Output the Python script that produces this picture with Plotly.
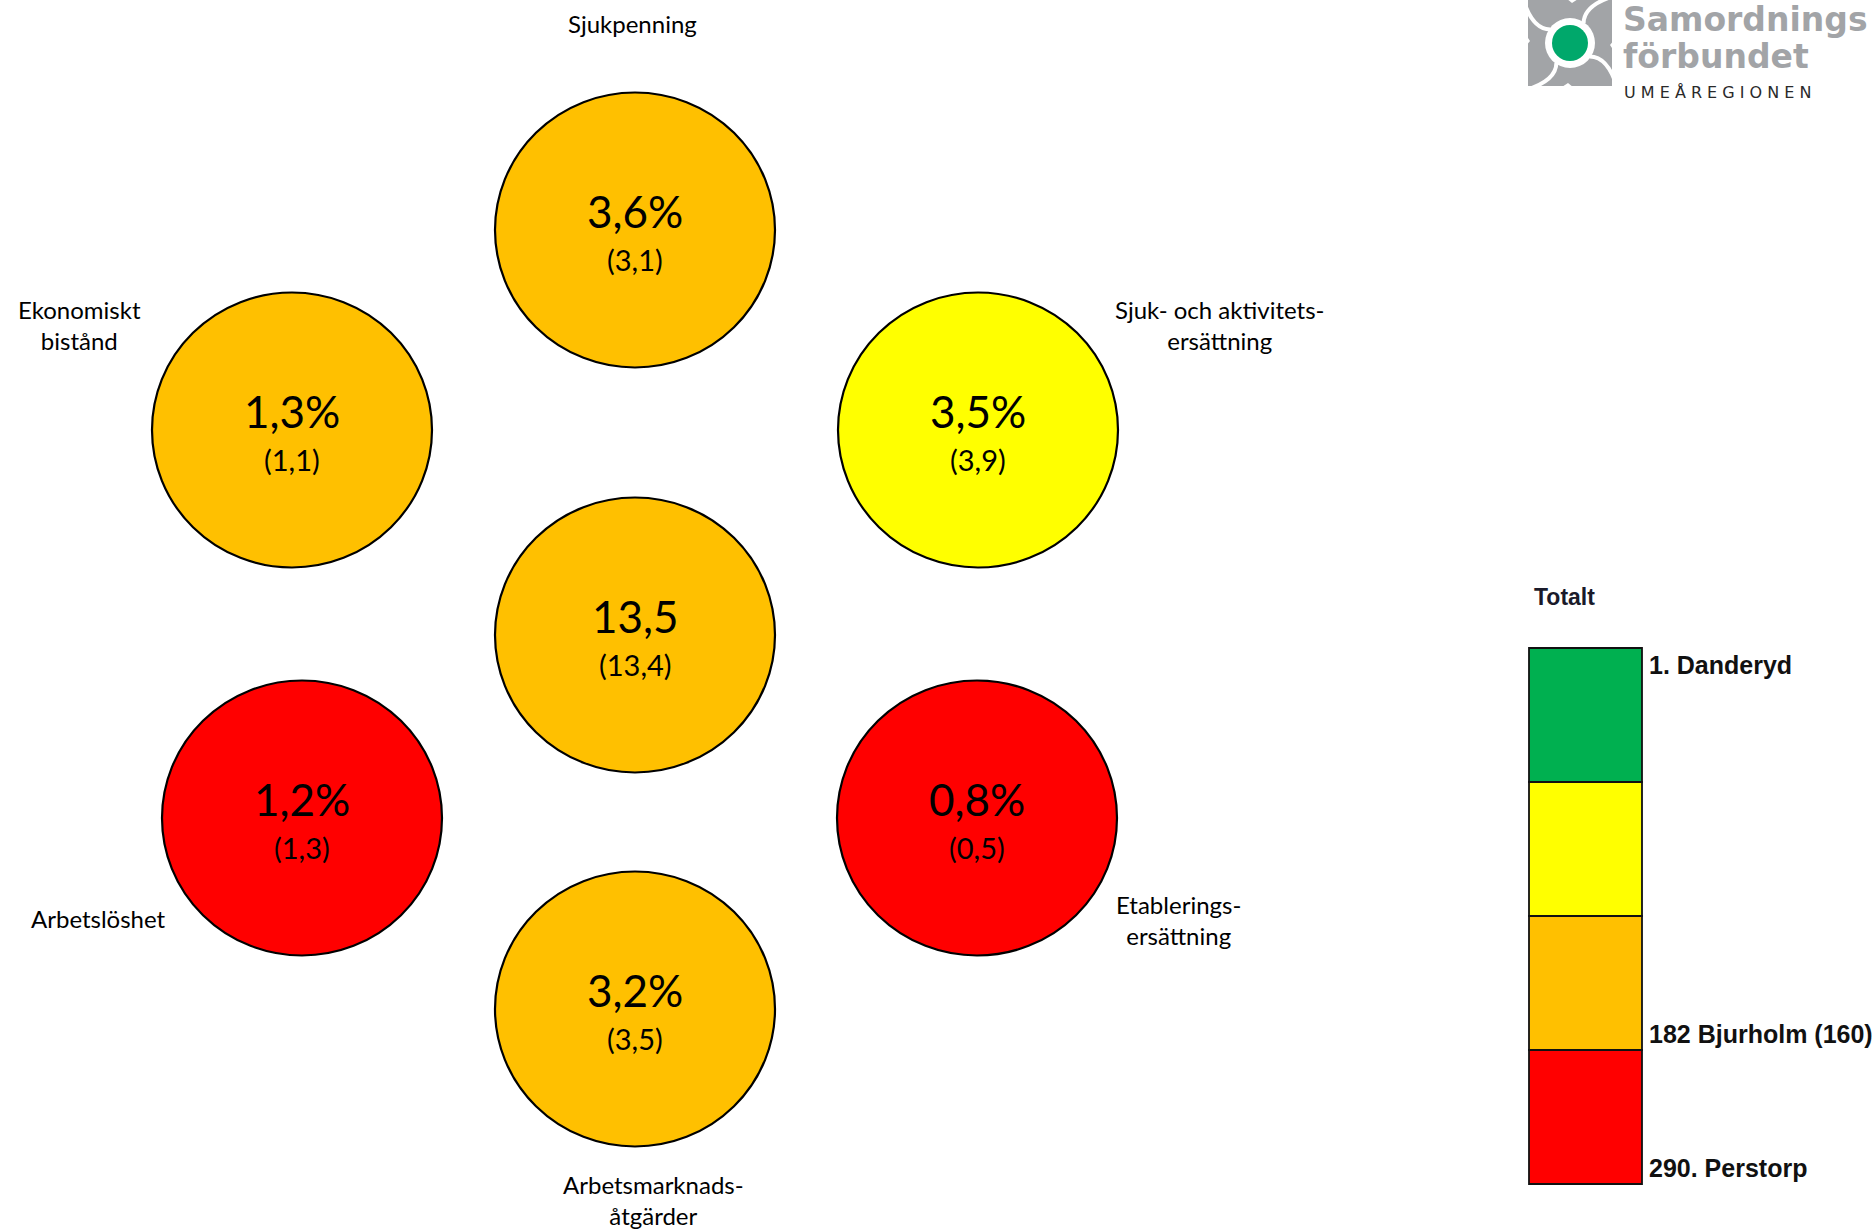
import math
import plotly.graph_objects as go

# ---------------- data ----------------
categories = ["Sjukpenning", "Sjuk- och aktivitets-<br>ersättning", "Etablerings-<br>ersättning",
              "Arbetsmarknads-<br>åtgärder", "Arbetslöshet", "Ekonomiskt<br>bistånd", "Totalt"]
values = ["3,6%", "3,5%", "0,8%", "3,2%", "1,2%", "1,3%", "13,5"]
comparison = ["(3,1)", "(3,9)", "(0,5)", "(3,5)", "(1,3)", "(1,1)", "(13,4)"]
levels = ["orange", "yellow", "red", "orange", "red", "orange", "orange"]

legend_title = "Totalt"
legend_levels = ["green", "yellow", "orange", "red"]
legend_labels = ["1. Danderyd", "", "182 Bjurholm (160)", "290. Perstorp"]

logo_lines = ["Samordnings", "förbundet", "UMEÅREGIONEN"]

# ---------------- layout / style ----------------
W, H = 1872, 1229
palette = {"green": "#00B050", "yellow": "#FFFF00", "orange": "#FFC000", "red": "#FF0000"}
centers = [(635, 230), (978, 430), (977, 818), (635, 1009), (302, 818), (292, 430), (635, 635)]
label_pos = [(632, 23), (1219, 325), (1178, 920), (653, 1200), (98, 918), (79, 325), None]
RX, RY = 140, 137.5
body_font = "Lato, Open Sans, sans-serif"

fig = go.Figure()
shapes = []
annotations = []

for cat, val, comp, lev, (cx, cy), lp in zip(categories, values, comparison, levels, centers, label_pos):
    shapes.append(dict(type="circle", xref="x", yref="y", x0=cx - RX, x1=cx + RX, y0=cy - RY, y1=cy + RY,
                       fillcolor=palette[lev], line=dict(color="black", width=2.2), layer="below"))
    annotations.append(dict(x=cx, y=cy - 19, text=val, showarrow=False, xanchor="center", yanchor="middle",
                            font=dict(family=body_font, size=44, color="black")))
    annotations.append(dict(x=cx, y=cy + 29, text=comp, showarrow=False, xanchor="center", yanchor="middle",
                            font=dict(family=body_font, size=29, color="black")))
    if lp is not None:
        annotations.append(dict(x=lp[0], y=lp[1], text=cat, showarrow=False, xanchor="center",
                                yanchor="middle", align="center",
                                font=dict(family=body_font, size=24, color="black")))

# legend bar
bx0, bx1, by0, seg_h = 1529, 1642, 648, 134
for i, lev in enumerate(legend_levels):
    y0 = by0 + i * seg_h
    shapes.append(dict(type="rect", xref="x", yref="y", x0=bx0, x1=bx1, y0=y0, y1=y0 + seg_h,
                       fillcolor=palette[lev], line=dict(color="#111111", width=1.8)))
label_y = [665, None, 1034, 1168]
for lab, ly in zip(legend_labels, label_y):
    if lab and ly is not None:
        annotations.append(dict(x=1647, y=ly, text=lab, showarrow=False, xanchor="left", yanchor="middle",
                                font=dict(family="Liberation Sans", size=25, color="#111111", weight="bold")))
annotations.append(dict(x=1532, y=597, text=legend_title, showarrow=False, xanchor="left", yanchor="middle",
                        font=dict(family="Liberation Sans", size=23, color="#1a1a2a", weight="bold")))

# logo (pinwheel icon approximated with a grey square cut by white swirls)
grey = "#A2A4A7"
lcx, lcy = 1570, 43
shapes.append(dict(type="rect", xref="x", yref="y", x0=lcx - 42, x1=lcx + 42, y0=lcy - 43, y1=lcy + 43,
                   fillcolor=grey, line=dict(width=0)))
for k in range(4):
    base = math.radians(90 * k)
    # concave notch at each side's middle
    def pt(r, a):
        return lcx + r * math.cos(a), lcy + r * math.sin(a)
    side = [(60, base - 0.32), (40, base + 0.05), (60, base + 0.42)]
    path = "M " + " L ".join("{:.1f} {:.1f}".format(*pt(r, a)) for r, a in side) + " Z"
    shapes.append(dict(type="path", xref="x", yref="y", path=path, fillcolor="white", line=dict(width=0)))
    # swirl cut from the inner ring out towards the corner
    s = pt(24, base + 0.6)
    c = pt(40, base + 0.35)
    e = pt(64, base + 0.75)
    shapes.append(dict(type="path", xref="x", yref="y",
                       path="M {:.1f} {:.1f} Q {:.1f} {:.1f} {:.1f} {:.1f}".format(*s, *c, *e),
                       line=dict(color="white", width=4)))
shapes.append(dict(type="circle", xref="x", yref="y", x0=lcx - 25, x1=lcx + 25, y0=lcy - 25, y1=lcy + 25,
                   fillcolor="white", line=dict(width=0)))
shapes.append(dict(type="circle", xref="x", yref="y", x0=lcx - 18, x1=lcx + 18, y0=lcy - 18, y1=lcy + 18,
                   fillcolor="#00A86B", line=dict(width=0)))
annotations.append(dict(x=1621, y=19, text=logo_lines[0], showarrow=False, xanchor="left", yanchor="middle",
                        font=dict(family="DejaVu Sans", size=33, color=grey, weight="bold")))
annotations.append(dict(x=1621, y=56, text=logo_lines[1], showarrow=False, xanchor="left", yanchor="middle",
                        font=dict(family="DejaVu Sans", size=33, color=grey, weight="bold")))
annotations.append(dict(x=1622, y=92, text=" ".join(logo_lines[2]),
                        showarrow=False, xanchor="left", yanchor="middle",
                        font=dict(family="DejaVu Sans", size=16, color="#2a2a2a")))

fig.add_trace(go.Scatter(x=[0, W], y=[0, H], mode="markers", marker=dict(opacity=0), hoverinfo="skip",
                         showlegend=False))

fig.update_layout(
    width=W, height=H, margin=dict(l=0, r=0, t=0, b=0),
    paper_bgcolor="white", plot_bgcolor="white",
    xaxis=dict(range=[0, W], visible=False, fixedrange=True),
    yaxis=dict(range=[H, 0], visible=False, fixedrange=True),
    shapes=shapes, annotations=annotations, showlegend=False,
)

fig.write_html("out.html", config={"displayModeBar": False},
               post_script="document.body.style.margin='0';document.body.style.overflow='hidden';")
